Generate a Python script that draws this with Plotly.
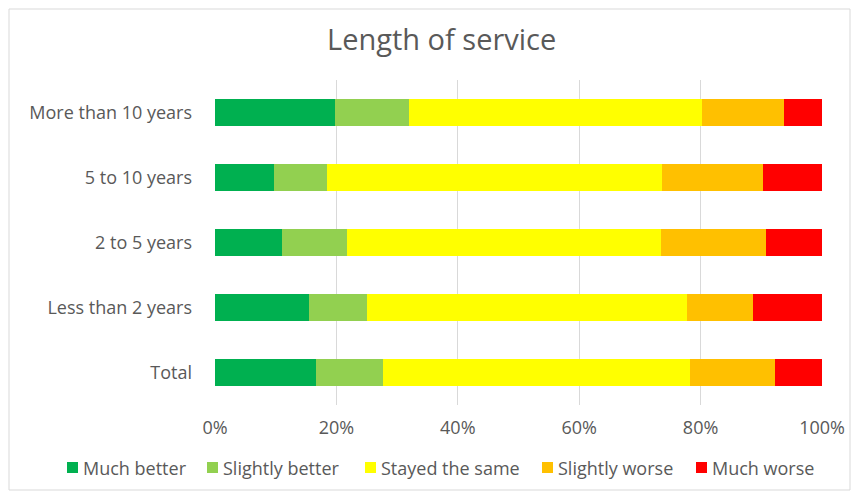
import plotly.graph_objects as go

# Categories (top to bottom) and share of responses (%)
groups = ['More than 10 years', '5 to 10 years', '2 to 5 years', 'Less than 2 years', 'Total']
much_better = [19.7, 9.8, 11.0, 15.5, 16.7]
slightly_better = [12.2, 8.6, 10.7, 9.5, 11.0]
stayed_same = [48.4, 55.3, 51.8, 52.7, 50.5]
slightly_worse = [13.4, 16.5, 17.2, 11.0, 14.1]
much_worse = [6.3, 9.8, 9.3, 11.3, 7.7]

tick_vals = [0, 20, 40, 60, 80, 100]
tick_text = ['0%', '20%', '40%', '60%', '80%', '100%']

names = ['Much better', 'Slightly better', 'Stayed the same', 'Slightly worse', 'Much worse']
colors = ['#00B050', '#92D050', '#FFFF00', '#FFC000', '#FF0000']
values = [much_better, slightly_better, stayed_same, slightly_worse, much_worse]

font_family = 'Open Sans, sans-serif'
grey = '#595959'

# plot area in page pixels (page has an 8px body margin)
L, R, T, B = 215, 822, 80, 405
def px(x):
    return (x - L) / (R - L)
def py(y):
    return (B - y) / (B - T)

fig = go.Figure()
for name, vals, col in zip(names, values, colors):
    fig.add_trace(go.Bar(
        y=groups,
        x=vals,
        name=name,
        orientation='h',
        marker=dict(color=col, line=dict(width=0)),
        hovertemplate='%{y}: %{x:.1f}%<extra>' + name + '</extra>'
    ))

# Outer chart border
fig.add_shape(type='rect', xref='paper', yref='paper',
              x0=px(9), x1=px(850), y0=py(490), y1=py(9),
              line=dict(color='#d9d9d9', width=1), layer='below')

# Excel-style compact legend: small square + label
legend_x = [67, 207, 365, 542, 696]
for name, col, lx in zip(names, colors, legend_x):
    fig.add_shape(type='rect', xref='paper', yref='paper',
                  x0=px(lx), x1=px(lx + 11), y0=py(473), y1=py(462),
                  fillcolor=col, line=dict(width=0))
    fig.add_annotation(xref='paper', yref='paper', x=px(lx + 14), y=py(467.5),
                       text=name, showarrow=False, xanchor='left', yanchor='middle',
                       font=dict(size=18, color=grey, family=font_family))

fig.update_layout(
    barmode='stack',
    bargap=0.58,
    width=852,
    height=489,
    margin=dict(l=L - 8, r=860 - R, t=T - 8, b=497 - B, autoexpand=False),
    paper_bgcolor='white',
    plot_bgcolor='white',
    showlegend=False,
    font=dict(family=font_family, color=grey, size=14),
    title=dict(text='Length of service', x=0.509, xref='container', y=0.9346,
               yanchor='middle', xanchor='center',
               font=dict(size=29, color=grey, family=font_family)),
    xaxis=dict(range=[0, 100], tickvals=tick_vals, ticktext=tick_text,
               showgrid=True, gridcolor='#d9d9d9', gridwidth=1,
               zeroline=False, showline=False, ticklabelstandoff=10,
               tickfont=dict(size=18, color=grey), fixedrange=True,
               automargin=False),
    yaxis=dict(autorange='reversed', showgrid=False, showline=False,
               ticklabelstandoff=22, tickfont=dict(size=18, color=grey),
               fixedrange=True, automargin=False),
)

fig.write_html('out.html')
